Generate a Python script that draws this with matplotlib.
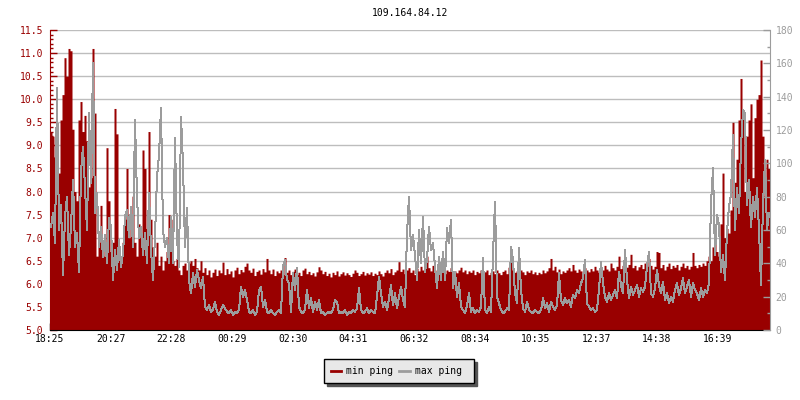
import matplotlib
matplotlib.use('Agg')
import numpy as np
import matplotlib.pyplot as plt
from matplotlib.ticker import MultipleLocator, FixedLocator
from matplotlib.lines import Line2D

# ---------------- data ----------------
title = "109.164.84.12"
time_labels = ['18:25', '20:27', '22:28', '00:29', '02:30', '04:31',
               '06:32', '08:34', '10:35', '12:37', '14:38', '16:39']
sample_minutes = 4          # one sample every 4 minutes, 24 h span
span_minutes = 1440

# min ping (ms, left axis)
min_ping_start = [
    9.3, 9.2, 8.75, 8.45, 8.4, 9.55, 10.1, 10.9, 10.5, 11.1,
    11.05, 9.35, 8.0, 7.8, 9.55, 9.95, 9.3, 9.65, 9.1, 8.1,
    8.3, 11.1, 9.7, 6.6, 6.9, 7.7, 6.8, 6.6, 8.95, 7.8,
    6.7, 6.9, 9.8, 9.25, 6.7, 6.6, 6.9, 7.4, 8.5, 7.0,
    7.2, 7.9, 6.9, 6.6, 7.3, 7.0, 8.9, 8.5, 7.2, 9.3,
    7.4, 6.8, 6.6, 6.9, 6.4, 6.6, 6.3, 6.5, 6.7, 7.5,
    7.4, 6.5, 6.4, 6.55, 6.3, 6.2, 6.4, 6.45, 6.3, 6.45,
    6.5, 6.4, 6.55, 6.35, 6.3, 6.5, 6.25, 6.35, 6.2, 6.3, 6.15,
]
min_ping_night = [
    6.25, 6.32, 6.18, 6.3, 6.24, 6.47, 6.2, 6.33, 6.22, 6.28,
    6.15, 6.3, 6.36, 6.22, 6.31, 6.26, 6.38, 6.45, 6.3, 6.25,
    6.34, 6.18, 6.27, 6.3, 6.21, 6.33, 6.26, 6.55, 6.3, 6.22,
    6.32, 6.18, 6.28, 6.24, 6.3, 6.2, 6.57, 6.25, 6.3, 6.2,
    6.27, 6.32, 6.2, 6.25, 6.18, 6.3, 6.34, 6.22, 6.27, 6.2,
    6.24, 6.17, 6.26, 6.37, 6.3, 6.22, 6.27, 6.18, 6.23, 6.15,
    6.25, 6.2, 6.28, 6.17, 6.22, 6.26, 6.19, 6.24, 6.2, 6.16,
    6.23, 6.3, 6.25, 6.18, 6.22, 6.27, 6.19, 6.24, 6.21, 6.26,
    6.18, 6.23, 6.2, 6.28, 6.22, 6.17, 6.25, 6.3, 6.24, 6.33,
    6.2, 6.26, 6.3, 6.48, 6.27, 6.32, 6.22, 6.3, 6.35, 6.25,
    6.3, 6.2, 6.34, 6.28, 6.38, 6.3, 6.42, 6.6, 6.35, 6.28,
    6.4, 6.3, 6.25, 6.35, 6.3, 6.38, 6.22, 6.3, 6.27, 6.35,
    6.2, 6.28, 6.24, 6.3, 6.36, 6.26, 6.3, 6.22, 6.28, 6.25,
    6.3, 6.2, 6.27, 6.24, 6.3, 6.22, 6.26, 6.3, 6.2, 6.25,
    6.28, 6.22, 6.3, 6.24, 6.2, 6.27, 6.3, 6.22, 6.36, 6.73,
    6.3, 6.25, 6.28, 6.22, 6.3, 6.26, 6.2, 6.28, 6.25, 6.3,
    6.22, 6.26, 6.2, 6.25, 6.22, 6.3, 6.24, 6.28, 6.35, 6.55,
    6.3, 6.38, 6.26, 6.32, 6.22, 6.28, 6.25, 6.3, 6.35, 6.28,
    6.42, 6.3, 6.25, 6.32, 6.28, 6.22, 6.35, 6.3, 6.26, 6.33,
    6.28, 6.38, 6.3, 6.25, 6.35, 6.3, 6.4, 6.32, 6.28, 6.45,
    6.35, 6.3, 6.38, 6.6, 6.33, 6.4, 6.3, 6.36, 6.42, 6.64,
    6.35, 6.4, 6.3, 6.37, 6.42, 6.33, 6.45, 6.38, 6.55, 6.4,
    6.32, 6.38, 6.7, 6.68, 6.35, 6.42, 6.3, 6.38, 6.45, 6.33,
    6.4, 6.36, 6.42, 6.3, 6.38, 6.45, 6.35, 6.4, 6.32, 6.38,
    6.68, 6.4, 6.35, 6.42, 6.38, 6.45, 6.4, 6.5,
]
min_ping_end = [
    6.6, 6.5, 6.8, 6.9, 6.7, 6.6, 7.3, 8.4, 7.0, 7.2,
    7.1, 7.6, 9.5, 8.2, 8.7, 9.55, 10.45, 9.7, 8.0, 9.2,
    9.55, 9.9, 8.3, 9.6, 10.0, 10.1, 10.85, 9.2, 7.9, 8.7, 8.5,
]

# max ping (ms, right axis)
max_ping_start = [
    62, 70, 52, 145, 60, 75, 33, 68, 80, 45,
    62, 90, 50, 58, 35, 95, 110, 85, 60, 130,
    88, 160, 70, 82, 50, 62, 44, 57, 40, 67,
    62, 30, 48, 36, 54, 38, 46, 68, 72, 56,
    74, 50, 126, 80, 55, 62, 45, 58, 40, 82,
    48, 30, 56, 92, 105, 133, 60, 50, 55, 40,
    68, 40, 115, 55, 38, 128, 99, 50, 73, 30,
    22, 34, 26, 36, 30, 25, 32, 14, 12, 15, 11,
]
max_ping_night = [
    12, 17, 11, 9, 12, 15, 13, 11, 10, 12, 9, 11, 10, 12,
    26, 20, 24, 18,
    11, 10, 12, 9, 11,
    24, 26, 14, 18,
    11, 10, 12, 10, 9, 11, 12, 10,
    38, 42, 30,
    28, 11, 34, 24,
    37, 14, 11, 10, 12,
    24, 13, 19, 11, 17, 12,
    18, 10, 11, 9, 10, 11, 10,
    12, 18, 17, 10,
    11, 10, 12, 9, 11, 10, 12, 11, 13,
    25, 12, 10, 11, 13, 10, 12, 11, 10,
    20, 32, 22,
    14, 17, 12, 19,
    27, 15, 22, 13, 20,
    26, 18, 14,
    58, 80, 48, 57, 45,
    30, 60, 40, 68,
    35, 42, 62, 48,
    52, 38, 25, 44, 30,
    47, 30, 61, 52, 66,
    25, 35, 20, 28, 14,
    12, 10, 15, 22, 11, 13, 10, 12, 11, 14,
    43, 12, 10, 14, 11,
    45, 77, 20, 16,
    12, 10, 11, 13, 12,
    50, 42, 22, 16, 49, 24,
    13, 11, 17, 12,
    11, 10, 12, 11, 10, 12,
    19, 13, 16, 11, 17, 14, 12, 15,
    34, 18, 15, 19, 16,
    18, 14, 21, 19, 24, 22, 28,
    31, 42, 16,
    14, 12, 13, 11, 12,
    24, 41, 28, 20, 17, 22,
    18, 21, 24, 19,
    35, 27, 22, 48,
    30, 19, 26, 21,
    24, 27, 20, 25, 23, 26,
    38, 47, 22, 20, 25,
    36, 27, 22, 29,
    18, 22, 16, 20, 17, 24,
    28, 21, 25, 31, 22,
    26, 30, 20, 28, 24,
    22, 18, 25, 20, 24, 22,
]
max_ping_end = [
    28, 76, 97, 45, 69, 63, 35, 45, 30, 59,
    74, 81, 117, 60, 85, 70, 110, 132, 130, 75,
    90, 62, 80, 68, 85, 60, 27, 75, 102, 60, 70,
]

# ---------------- style ----------------
RED = '#990000'
GRAY = '#9c9c9c'
GRID = '#bdbdbd'
plt.rcParams['font.family'] = ['DejaVu Sans Mono', 'DejaVu Sans']
FS = 7

min_ping = np.array(min_ping_start + min_ping_night + min_ping_end, dtype=float)
max_ping = np.array(max_ping_start + max_ping_night + max_ping_end, dtype=float)
n = min(len(min_ping), len(max_ping))
min_ping = min_ping[:n]
max_ping = max_ping[:n]
t = np.arange(n) * sample_minutes
t_ext = np.append(t, span_minutes)

fig = plt.figure(figsize=(8, 4), dpi=100)
ax = fig.add_axes([50 / 800, 70 / 400, 720 / 800, 300 / 400])
ax.set_axisbelow(True)

ax.fill_between(t_ext, 5.0, np.append(min_ping, min_ping[-1]), step='post',
                color=RED, linewidth=0, zorder=2)
ax.set_xlim(0, span_minutes)
ax.set_ylim(5.0, 11.5)

ax2 = ax.twinx()
ax2.plot(t + sample_minutes / 2, max_ping, color=GRAY, linewidth=0.72,
         antialiased=False, zorder=3)
ax2.set_ylim(0, 180)
ax2.set_xlim(0, span_minutes)

# grid
ax.yaxis.set_major_locator(MultipleLocator(0.5))
ax.yaxis.set_minor_locator(MultipleLocator(0.1))
ax.grid(axis='y', which='major', color=GRID, linewidth=1, zorder=0)
ax.grid(axis='x', visible=False)

# x ticks
tick_step = 121.4
ax.xaxis.set_major_locator(FixedLocator([k * tick_step for k in range(len(time_labels))]))
ax.set_xticklabels(time_labels)
ax.tick_params(axis='x', direction='in', length=5, width=1, color='black',
               labelsize=FS, pad=3, labelcolor='black')

# left axis
ax.yaxis.set_major_formatter(matplotlib.ticker.FormatStrFormatter('%.1f'))
ax.tick_params(axis='y', which='major', direction='in', length=5, width=1,
               color=RED, labelcolor=RED, labelsize=FS, pad=5)
ax.tick_params(axis='y', which='minor', direction='in', length=2.5, width=1, color=RED)

# right axis
ax2.yaxis.set_major_locator(MultipleLocator(20))
ax2.yaxis.set_minor_locator(MultipleLocator(10))
ax2.tick_params(axis='y', which='major', direction='in', length=5, width=1,
                color=GRAY, labelcolor=GRAY, labelsize=FS, pad=4)
ax2.tick_params(axis='y', which='minor', direction='in', length=2.5, width=1, color=GRAY)

for sp in ['top', 'right']:
    ax.spines[sp].set_visible(False)
ax.spines['left'].set_color(RED)
ax.spines['bottom'].set_color('black')
for sp in ['top', 'left', 'bottom']:
    ax2.spines[sp].set_visible(False)
ax2.spines['right'].set_color(GRAY)

fig.text(410 / 800, 1 - 13 / 400, title, ha='center', va='center', fontsize=FS, color='black')

handles = [Line2D([], [], color=RED, lw=2), Line2D([], [], color=GRAY, lw=2)]
leg = fig.legend(handles, ['min ping', 'max ping '], loc='center',
                 bbox_to_anchor=(399 / 800, 1 - 371 / 400), ncol=2,
                 frameon=True, fancybox=False, framealpha=1,
                 shadow={'color': '#555555', 'alpha': 1},
                 facecolor='#e8e8e8', edgecolor='black', fontsize=FS,
                 handlelength=1.1, handletextpad=0.5, columnspacing=0.6,
                 borderpad=0.7, borderaxespad=0)
leg.get_frame().set_linewidth(1)

fig.savefig('out.png', dpi=100)
